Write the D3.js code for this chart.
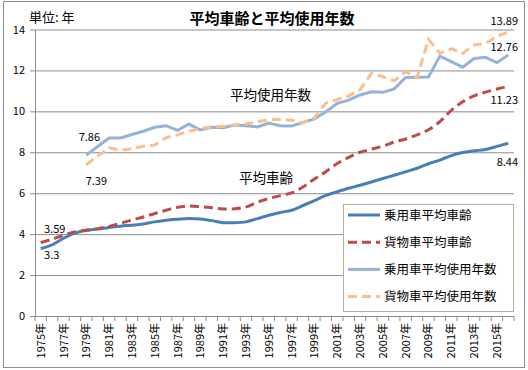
<!DOCTYPE html>
<meta charset="utf-8">
<style>
body { margin: 0; background: #fff; }
svg text { font-family: "Noto Sans CJK JP", "Noto Sans", sans-serif; fill: #000; }
.grid line { stroke: #8c8c8c; stroke-width: 1; }
.grid path { display: none; }
.axis path, .axis line { stroke: #8c8c8c; }
</style>
<body>
<script src="https://d3js.org/d3.v7.min.js"></script>
<script>

var years = [1975, 1976, 1977, 1978, 1979, 1980, 1981, 1982, 1983, 1984,
  1985, 1986, 1987, 1988, 1989, 1990, 1991, 1992, 1993, 1994,
  1995, 1996, 1997, 1998, 1999, 2000, 2001, 2002, 2003, 2004,
  2005, 2006, 2007, 2008, 2009, 2010, 2011, 2012, 2013, 2014,
  2015, 2016];

// 乗用車平均車齢
var carAge = [3.30, 3.48, 3.80, 4.05, 4.19, 4.25, 4.32, 4.39, 4.44, 4.50,
  4.60, 4.68, 4.73, 4.77, 4.74, 4.66, 4.56, 4.56, 4.60, 4.76,
  4.92, 5.06, 5.17, 5.40, 5.64, 5.89, 6.07, 6.24, 6.39, 6.55,
  6.72, 6.88, 7.05, 7.22, 7.44, 7.62, 7.84, 7.99, 8.07, 8.14,
  8.29, 8.44];
// 貨物車平均車齢
var truckAge = [3.59, 3.75, 3.95, 4.11, 4.19, 4.27, 4.38, 4.53, 4.69, 4.84,
  5.01, 5.17, 5.31, 5.37, 5.34, 5.29, 5.23, 5.24, 5.33, 5.56,
  5.74, 5.88, 6.02, 6.30, 6.70, 7.05, 7.45, 7.75, 8.00, 8.15,
  8.30, 8.50, 8.65, 8.85, 9.10, 9.50, 10.05, 10.47, 10.76, 10.94,
  11.09, 11.23];
// 乗用車平均使用年数
var carLife = [null, null, null, null, 7.86, 8.28, 8.70, 8.70, 8.87, 9.03,
  9.22, 9.30, 9.07, 9.38, 9.09, 9.22, 9.20, 9.33, 9.30, 9.24,
  9.43, 9.30, 9.28, 9.46, 9.63, 9.98, 10.39, 10.55, 10.80, 10.96,
  10.93, 11.10, 11.66, 11.67, 11.68, 12.70, 12.43, 12.16, 12.58, 12.64,
  12.38, 12.76];
// 貨物車平均使用年数
var truckLife = [null, null, null, null, 7.39, 7.82, 8.22, 8.10, 8.17, 8.30,
  8.35, 8.72, 8.85, 9.03, 9.16, 9.25, 9.26, 9.33, 9.38, 9.49,
  9.60, 9.61, 9.57, 9.44, 9.68, 10.40, 10.58, 10.75, 11.05, 11.86,
  11.69, 11.49, 11.93, 11.66, 13.52, 12.84, 13.06, 12.84, 13.24, 13.32,
  13.66, 13.89];

var yTicks = [0, 2, 4, 6, 8, 10, 12, 14];
var xLabelYears = years.filter(function(d, i) { return i % 2 == 0; });

var series = [
  {name: "乗用車平均車齢", values: carAge, color: "#4a7ebb", dash: null, smooth: true},
  {name: "貨物車平均車齢", values: truckAge, color: "#be4b48", dash: "9,5", smooth: true},
  {name: "乗用車平均使用年数", values: carLife, color: "#95b3d7", dash: null, smooth: false},
  {name: "貨物車平均使用年数", values: truckLife, color: "#f9bf8f", dash: "9,5", smooth: false}
];

var width = 528, height = 370;
var plotL = 35, plotR = 514, plotT = 29.5, plotB = 316;

var svg = d3.select("body").append("svg")
    .attr("width", width)
    .attr("height", height);

svg.append("rect")
    .attr("x", 3.5).attr("y", 1.5)
    .attr("width", 521).attr("height", 366)
    .attr("fill", "#fff")
    .attr("stroke", "#8c8c8c");

var x = d3.scaleBand().domain(years).range([plotL, plotR]);
var y = d3.scaleLinear().domain([0, 14]).range([plotB, plotT]);
var cx = function(yr) { return x(yr) + x.bandwidth() / 2; };

// gridlines
svg.append("g")
    .attr("class", "grid")
    .attr("transform", "translate(" + plotL + ",0)")
    .call(d3.axisRight(y).tickValues(yTicks.slice(1)).tickSize(plotR - plotL).tickFormat(""));

// y axis
var yAxis = svg.append("g")
    .attr("class", "axis")
    .attr("transform", "translate(" + plotL + ",0)")
    .call(d3.axisLeft(y).tickValues(yTicks).tickSize(5).tickPadding(5).tickSizeOuter(0));
yAxis.selectAll("text").style("font-size", "11px");

// x axis line and ticks between categories
svg.append("line")
    .attr("x1", plotL).attr("x2", plotR)
    .attr("y1", plotB + 0.5).attr("y2", plotB + 0.5)
    .attr("stroke", "#8c8c8c");
svg.append("g").selectAll("line")
    .data(years.concat(["end"]))
    .enter().append("line")
    .attr("x1", function(d) { return d == "end" ? plotR : x(d); })
    .attr("x2", function(d) { return d == "end" ? plotR : x(d); })
    .attr("y1", plotB).attr("y2", plotB + 5)
    .attr("stroke", "#8c8c8c");

svg.append("g").selectAll("text")
    .data(xLabelYears)
    .enter().append("text")
    .attr("transform", function(d) { return "translate(" + (cx(d) + 4) + "," + (plotB + 7) + ") rotate(-90)"; })
    .attr("text-anchor", "end")
    .style("font-size", "11px")
    .text(function(d) { return d + "年"; });

// lines
series.forEach(function(s) {
  var line = d3.line()
      .defined(function(d) { return d != null; })
      .x(function(d, i) { return cx(years[i]); })
      .y(function(d) { return y(d); })
      .curve(s.smooth ? d3.curveCatmullRom : d3.curveLinear);
  svg.append("path")
      .datum(s.values)
      .attr("fill", "none")
      .attr("stroke", s.color)
      .attr("stroke-width", 3)
      .attr("stroke-dasharray", s.dash)
      .attr("d", line);
});

// data labels
var last = years.length - 1;
var labels = [
  {t: "3.3", x: cx(years[0]) + 11, y: y(carAge[0]) + 11, a: "middle"},
  {t: "3.59", x: cx(years[0]) + 14, y: y(truckAge[0]) - 10, a: "middle"},
  {t: "7.86", x: cx(years[4]) + 3, y: y(carLife[4]) - 14, a: "middle"},
  {t: "7.39", x: cx(years[4]) + 10, y: y(truckLife[4]) + 20, a: "middle"},
  {t: "13.89", x: 518, y: y(truckLife[last]) - 7, a: "end"},
  {t: "12.76", x: 518, y: y(carLife[last]) - 4, a: "end"},
  {t: "11.23", x: 518, y: y(truckAge[last]) + 18, a: "end"},
  {t: "8.44", x: 518, y: y(carAge[last]) + 23, a: "end"}
];
svg.append("g").selectAll("text")
    .data(labels)
    .enter().append("text")
    .attr("x", function(d) { return d.x; })
    .attr("y", function(d) { return d.y; })
    .attr("text-anchor", function(d) { return d.a; })
    .style("font-size", "11px")
    .text(function(d) { return d.t; });

svg.append("text")
    .attr("x", 230).attr("y", 100)
    .style("font-size", "13.5px")
    .text("平均使用年数");
svg.append("text")
    .attr("x", 239).attr("y", 183)
    .style("font-size", "13.5px")
    .text("平均車齢");

// title
svg.append("text")
    .attr("x", 272).attr("y", 24)
    .attr("text-anchor", "middle")
    .style("font-size", "15px")
    .style("font-weight", "bold")
    .text("平均車齢と平均使用年数");
svg.append("text")
    .attr("x", 29).attr("y", 22)
    .style("font-size", "13px")
    .text("単位: 年");

// legend
var legend = svg.append("g").attr("transform", "translate(343,204)");
legend.append("rect")
    .attr("x", 0.5).attr("y", 0.5)
    .attr("width", 170).attr("height", 107)
    .attr("fill", "#fff")
    .attr("stroke", "#b9b093");
var item = legend.selectAll(".item")
    .data(series)
    .enter().append("g")
    .attr("transform", function(d, i) { return "translate(0," + (11 + i * 27.2) + ")"; });
item.append("line")
    .attr("x1", 5).attr("x2", 37)
    .attr("y1", 0).attr("y2", 0)
    .attr("stroke", function(d) { return d.color; })
    .attr("stroke-width", 3)
    .attr("stroke-dasharray", function(d) { return d.dash; });
item.append("text")
    .attr("x", 41).attr("y", 4.5)
    .style("font-size", "12.5px")
    .text(function(d) { return d.name; });

</script>
</body>
